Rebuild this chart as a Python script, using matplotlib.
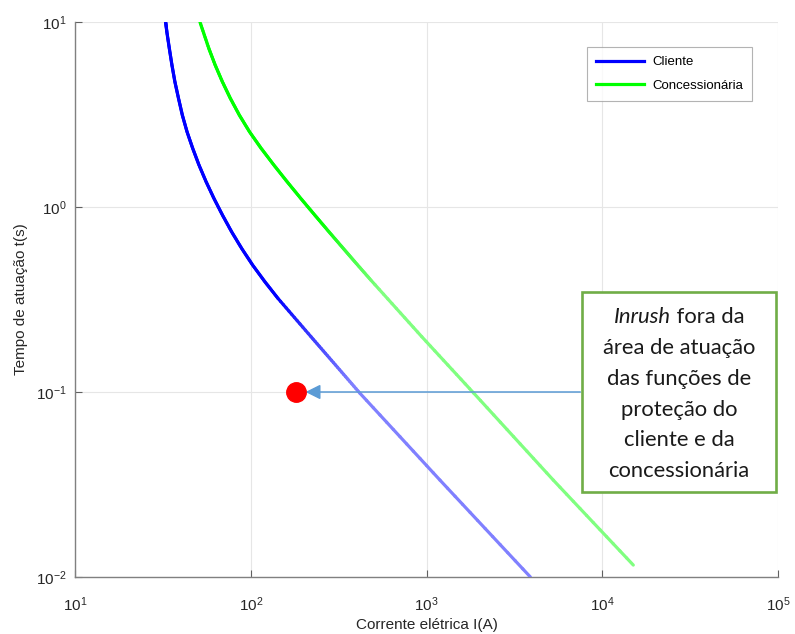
import numpy as np
import matplotlib
matplotlib.use("Agg")
import matplotlib.pyplot as plt
from matplotlib.collections import LineCollection
from matplotlib.lines import Line2D
from matplotlib.patches import Rectangle
from matplotlib.offsetbox import TextArea, HPacker, VPacker, AnnotationBbox
from matplotlib.colors import to_rgba

plt.rcParams['font.family'] = ['Liberation Sans', 'DejaVu Sans']
plt.rcParams['mathtext.fontset'] = 'custom'
plt.rcParams['mathtext.rm'] = 'Liberation Sans'
plt.rcParams['mathtext.default'] = 'regular'

# ---- data ----
cliente_I = [32.8, 33.3, 34.4, 35.6, 37.0, 38.8, 40.8, 43.4, 46.7, 50.7, 55.7, 61.7,
             69.0, 77.8, 88.7, 102.4, 120.2, 142.7, 220.2, 303.5, 418.4, 1193, 3900]
cliente_t = [10.0, 8.86, 7.21, 5.86, 4.76, 3.87, 3.14, 2.55, 2.08, 1.69, 1.37, 1.114,
             0.905, 0.735, 0.598, 0.486, 0.395, 0.321, 0.199, 0.140, 0.0984, 0.0334, 0.0100]

conc_I = [51.4, 57.7, 62.7, 68.9, 76.5, 86.1, 98.4, 114.4, 135.1, 161.0, 192.4, 231.2,
          278.4, 335.7, 390.8, 482, 940, 1861, 5266, 15020]
conc_t = [10.0, 7.21, 5.86, 4.76, 3.87, 3.14, 2.55, 2.08, 1.69, 1.37, 1.114, 0.905,
          0.735, 0.598, 0.506, 0.403, 0.199, 0.0984, 0.0334, 0.0116]

inrush_I = [180]
inrush_t = [0.1]

series_names = ['Cliente', 'Concessionária']
xticks = [1e1, 1e2, 1e3, 1e4, 1e5]
xtick_labels = ['$10^{1}$', '$10^{2}$', '$10^{3}$', '$10^{4}$', '$10^{5}$']
yticks = [1e-2, 1e-1, 1e0, 1e1]
ytick_labels = ['$10^{-2}$', '$10^{-1}$', '$10^{0}$', '$10^{1}$']

note_lines = ['fora da', 'área de atuação', 'das funções de', 'proteção do',
              'cliente e da', 'concessionária']

fig = plt.figure(figsize=(7.95, 6.34), dpi=100)
ax = fig.add_axes([75/795, 1-577/634, 703/795, 555/634])
ax.set_xscale('log')
ax.set_yscale('log')
ax.set_xlim(1e1, 1e5)
ax.set_ylim(1e-2, 1e1)


def faded_line(xs, ys, color, t_hi, t_lo, lw=2.3, nsub=12):
    """Draw the polyline through the read points; colour fades along it."""
    lx = np.log10(xs)
    ly = np.log10(ys)
    base = np.array(to_rgba(color))
    segs, cols = [], []
    for i in range(len(xs) - 1):
        # split each straight (log-log) segment only for smooth colouring
        for k in range(nsub):
            f0, f1 = k / nsub, (k + 1) / nsub
            a0 = (lx[i] + f0 * (lx[i+1] - lx[i]), ly[i] + f0 * (ly[i+1] - ly[i]))
            a1 = (lx[i] + f1 * (lx[i+1] - lx[i]), ly[i] + f1 * (ly[i+1] - ly[i]))
            segs.append([(10**a0[0], 10**a0[1]), (10**a1[0], 10**a1[1])])
            ym = 0.5 * (a0[1] + a1[1])
            f = np.clip((np.log10(t_hi) - ym) / (np.log10(t_hi) - np.log10(t_lo)), 0, 1)
            a = 1 - 0.5 * f
            c = base.copy()
            c[:3] = 1 - a * (1 - base[:3])
            cols.append(c)
    lc = LineCollection(segs, colors=cols, linewidths=lw, capstyle='round',
                        joinstyle='round', zorder=3)
    ax.add_collection(lc)


faded_line(cliente_I, cliente_t, '#0000ff', 0.32, 0.11)
faded_line(conc_I, conc_t, '#00ff00', 0.85, 0.35)

ax.plot(inrush_I, inrush_t, 'o', color='#ff0000', markersize=14, zorder=5)

# grid / axes styling (MATLAB-like)
ax.set_xticks(xticks)
ax.set_xticklabels(xtick_labels)
ax.set_yticks(yticks)
ax.set_yticklabels(ytick_labels)
ax.minorticks_off()
ax.grid(True, which='major', color='#e6e6e6', linewidth=0.8, zorder=0)
ax.set_axisbelow(True)
for s in ['top', 'right']:
    ax.spines[s].set_visible(False)
for s in ['left', 'bottom']:
    ax.spines[s].set_color('#808080')
    ax.spines[s].set_linewidth(1.0)
ax.tick_params(direction='in', length=5, width=0.8, color='#606060',
               labelcolor='#262626', labelsize=11)
ax.tick_params(axis='x', pad=13)
ax.tick_params(axis='y', pad=6)

ax.set_xlabel('Corrente elétrica I(A)', fontsize=11, color='#262626', labelpad=3)
ax.set_ylabel('Tempo de atuação t(s)', fontsize=11, color='#262626', labelpad=6)

handles = [Line2D([], [], color='#0000ff', lw=2.3),
           Line2D([], [], color='#00ff00', lw=2.3)]
leg = ax.legend(handles, series_names, loc='upper right',
                bbox_to_anchor=(0.963, 0.955), borderaxespad=0, fancybox=False,
                edgecolor='#a0a0a0', fontsize=9.5, handlelength=3.6,
                borderpad=0.7, labelspacing=0.85, handletextpad=0.6)
leg.get_frame().set_linewidth(0.8)

# annotation box
bx0, bx1 = (582-75)/703, (776-75)/703
by0, by1 = 1-(492-22)/555, 1-(292-22)/555
ax.add_patch(Rectangle((bx0, by0), bx1-bx0, by1-by0, transform=ax.transAxes,
                       facecolor='white', edgecolor='#70ad47', linewidth=1.9,
                       zorder=6, clip_on=False))

fs = 15.8
tprops = dict(family='Lato', size=fs, color='#1a1a1a')
first = HPacker(children=[TextArea('Inrush', textprops=dict(tprops, style='italic')),
                          TextArea(' ' + note_lines[0], textprops=tprops)],
                pad=0, sep=0, align='baseline')
rows = [first] + [TextArea(l, textprops=tprops) for l in note_lines[1:]]
vp = VPacker(children=rows, pad=0, sep=7.8, align='center')
ab = AnnotationBbox(vp, ((bx0+bx1)/2, (by0+by1)/2 - 0.004), xycoords='axes fraction',
                    frameon=False, box_alignment=(0.5, 0.5), zorder=7)
ax.add_artist(ab)

# arrow from box to inrush point
ax.annotate('', xy=(205, 0.1), xytext=(7500, 0.1), xycoords='data',
            arrowprops=dict(arrowstyle='-|>,head_length=0.9,head_width=0.45',
                            color='#5b9bd5', lw=1.1, shrinkA=0, shrinkB=0),
            zorder=4)

fig.savefig('out.png', dpi=100)
